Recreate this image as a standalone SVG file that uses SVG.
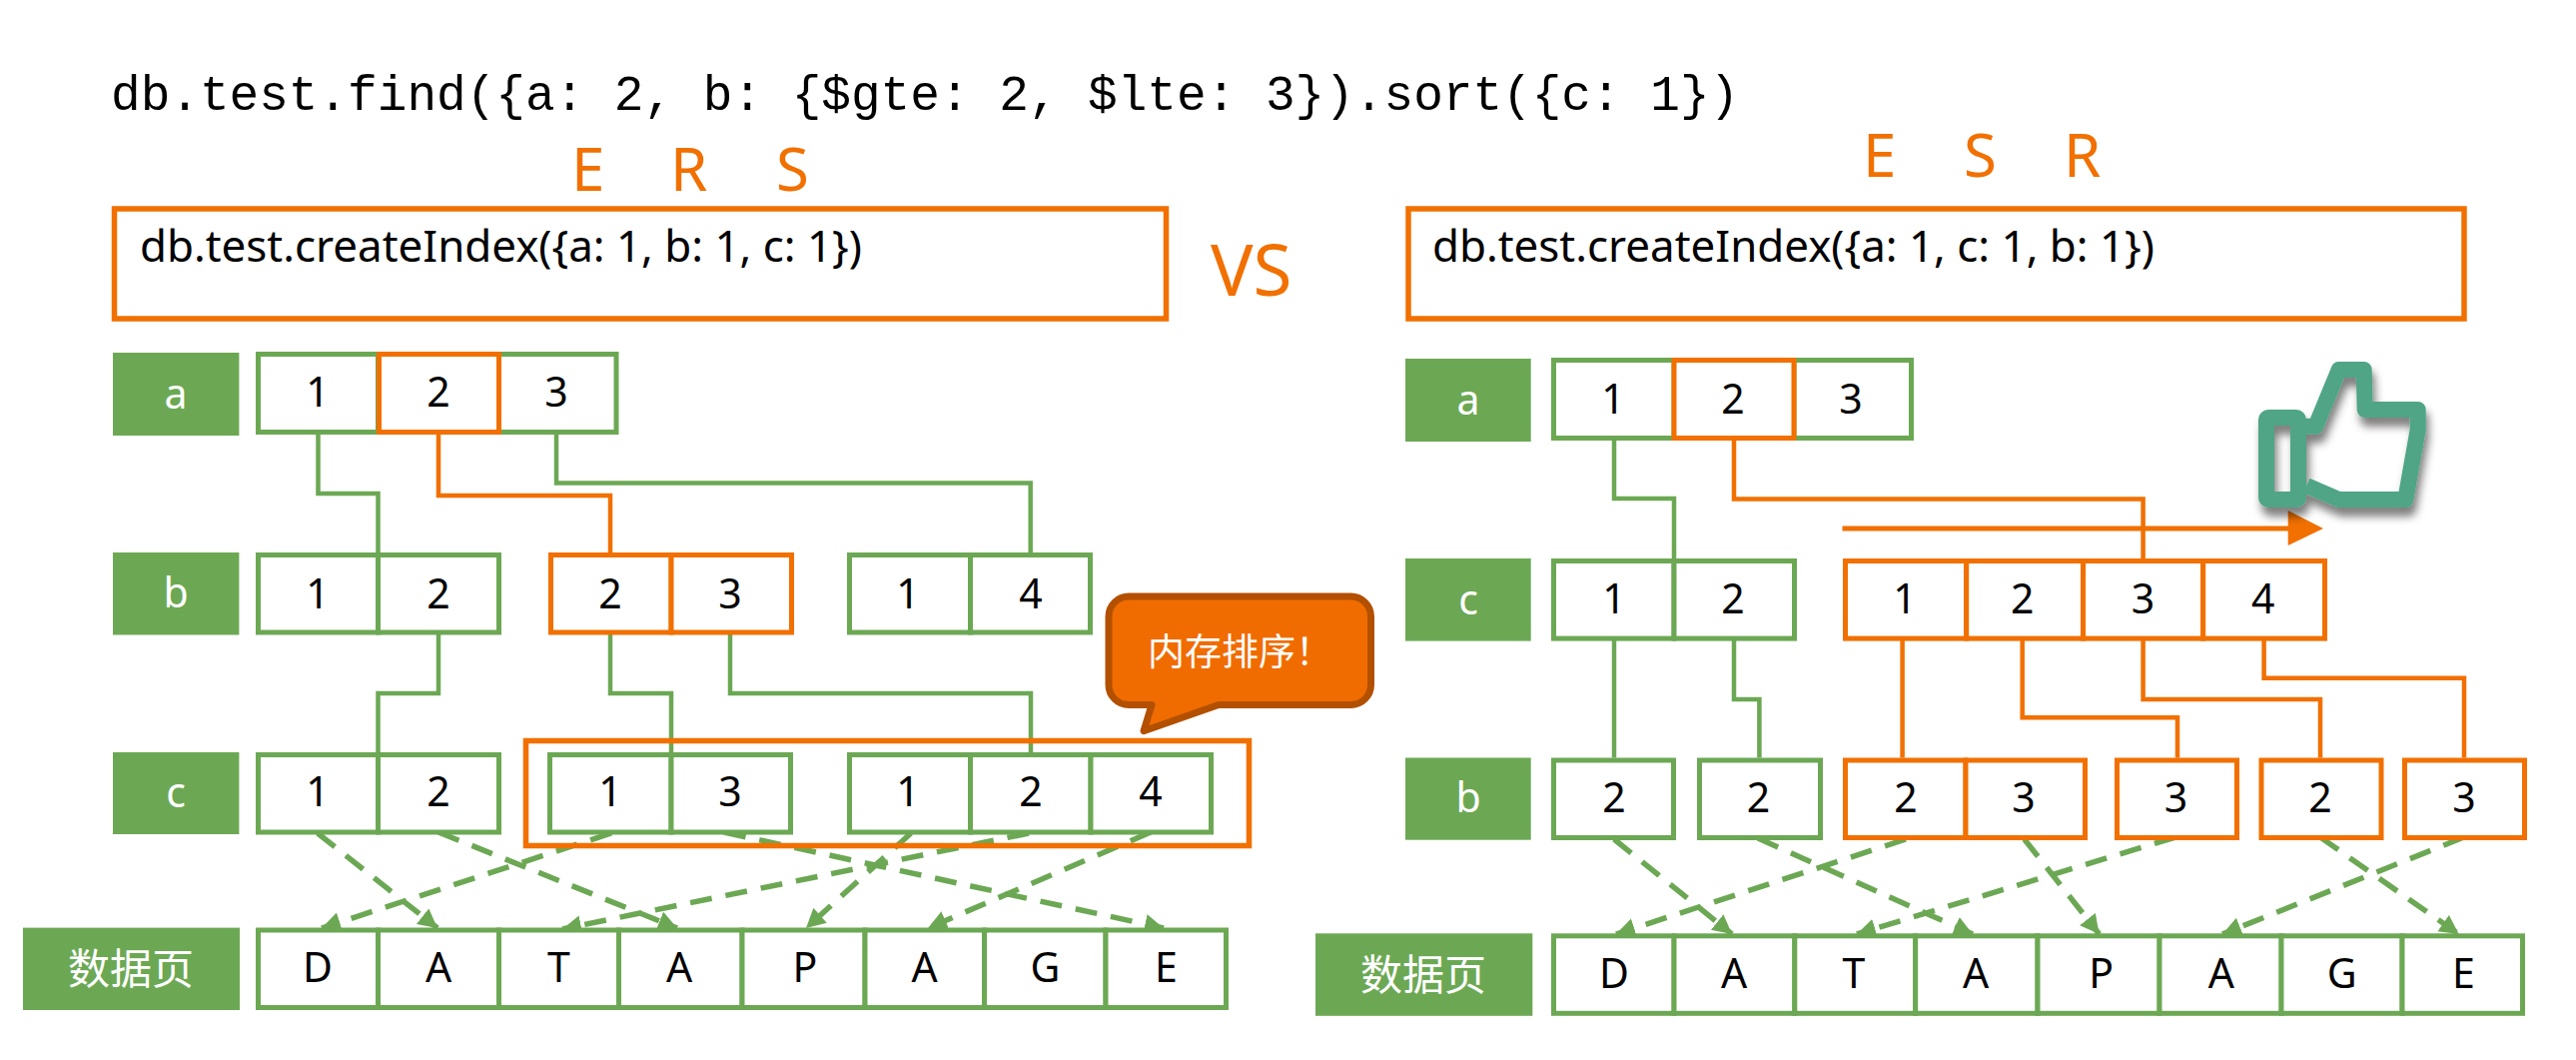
<svg xmlns="http://www.w3.org/2000/svg" width="2579" height="1061" viewBox="0 0 2579 1061">
<style>
text{font-family:"Noto Sans","Noto Sans CJK SC",sans-serif}
.g{fill:#fff;stroke:#6ca854;stroke-width:5}
.o{fill:#fff;stroke:#f17000;stroke-width:5}
.box{fill:none;stroke:#f17000;stroke-width:5.5}
.lab{fill:#6ca854}
.lt{fill:#fff;font-size:41px;text-anchor:middle}
.cn{font-size:42px}
.d{fill:#000;font-size:41px;text-anchor:middle}
.big{fill:#f17000;font-size:60px}
.code{fill:#000;font-size:43.9px}
.cg{fill:none;stroke:#6ca854;stroke-width:4.5}
.co{fill:none;stroke:#f17000;stroke-width:4.5}
.dash{fill:none;stroke:#6ca854;stroke-width:5.5;stroke-dasharray:22 14;marker-end:url(#ah)}
</style>
<defs>
<marker id="ah" markerUnits="userSpaceOnUse" markerWidth="22" markerHeight="22" refX="19" refY="10" orient="auto"><path d="M0 0L19 10L0 20Z" fill="#6ca854"/></marker>
<filter id="sh" x="-20%" y="-20%" width="150%" height="150%"><feDropShadow dx="3" dy="9" stdDeviation="4" flood-color="#000" flood-opacity=".5"/></filter>
</defs>
<rect width="2579" height="1061" fill="#fff"/>
<g id="connectors">
<path class="cg" d="M318.5 435V494H378.5V553"/>
<path class="co" d="M439 435V496H611V553"/>
<path class="cg" d="M557 435V483.5H1031.7V553"/>
<path class="cg" d="M439 635V694H378.5V753"/>
<path class="cg" d="M611 635V694H672V753"/>
<path class="cg" d="M731 635V694H1032V753"/>
<path class="dash" d="M318 834L438 929"/>
<path class="dash" d="M439 833L678 929"/>
<path class="dash" d="M612 834L322 929"/>
<path class="dash" d="M725 833L1165 929"/>
<path class="dash" d="M912 834L807 929"/>
<path class="dash" d="M1030 834L563 930"/>
<path class="dash" d="M1152 833L929 929"/>
<path class="cg" d="M1616 441V499H1676V561"/>
<path class="co" d="M1736 441V499.5H2145.6V561"/>
<path class="cg" d="M1616 641V758.5"/>
<path class="cg" d="M1736 641V700H1761.4V758.5"/>
<path class="co" d="M1904.6 641V758.5"/>
<path class="co" d="M2024.7 641V718.3H2180V758.5"/>
<path class="co" d="M2145.6 641V700H2323V758.5"/>
<path class="co" d="M2266.6 641V678.7H2467V758.5"/>
<path class="dash" d="M1616 840L1734 935"/>
<path class="dash" d="M1760 839L1975 935"/>
<path class="dash" d="M1908 840L1618 935"/>
<path class="dash" d="M2026.7 840L2101.7 935"/>
<path class="dash" d="M2178 838L1859 935"/>
<path class="dash" d="M2323 838L2461.7 935"/>
<path class="dash" d="M2466.7 838L2225 935"/>
<path d="M1844.5 529H2292" fill="none" stroke="#f17000" stroke-width="5"/>
<path d="M2290.7 511L2326 529L2290.7 546Z" fill="#f17000"/>
</g>
<g id="query"><text x="111" y="110" style="font-family:'Liberation Mono',monospace;font-size:49.4px" fill="#000">db.test.find({a: 2, b: {$gte: 2, $lte: 3}).sort({c: 1})</text></g>
<g id="esr-left"><text class="big" x="572" y="191">E</text><text class="big" x="671" y="191">R</text><text class="big" x="777" y="191">S</text></g>
<g id="esr-right"><text class="big" x="1865" y="176.5">E</text><text class="big" x="1966" y="176.5">S</text><text class="big" x="2066" y="176.5">R</text></g>
<g id="index-left"><rect class="box" x="114.5" y="209" width="1053" height="110"/><text class="code" x="140" y="262">db.test.createIndex({a: 1, b: 1, c: 1})</text></g>
<g id="vs"><text x="1212" y="296" fill="#f17000" font-size="71">VS</text></g>
<g id="index-right"><rect class="box" x="1410" y="209" width="1057" height="110"/><text class="code" x="1434" y="262">db.test.createIndex({a: 1, c: 1, b: 1})</text></g>

<g id="left-a">
<rect class="lab" x="113" y="353" width="126.4" height="83"/><text class="lt" x="176" y="409">a</text>
<rect class="g" x="258.5" y="354.5" width="120" height="78"/><rect class="g" x="499.5" y="354.5" width="117.5" height="78"/><rect class="o" x="379.5" y="354.5" width="120" height="78"/>
<text class="d" x="318" y="407">1</text><text class="d" x="439" y="407">2</text><text class="d" x="557" y="407">3</text>
</g>
<g id="left-b">
<rect class="lab" x="113" y="553" width="126.4" height="82.5"/><text class="lt" x="176" y="608">b</text>
<rect class="g" x="258.5" y="555.5" width="120" height="77.5"/><rect class="g" x="378.5" y="555.5" width="121" height="77.5"/>
<rect class="o" x="551.5" y="555.5" width="120.5" height="77.5"/><rect class="o" x="672" y="555.5" width="120.5" height="77.5"/>
<rect class="g" x="850.5" y="555.5" width="121" height="77.5"/><rect class="g" x="971.5" y="555.5" width="120" height="77.5"/>
<text class="d" x="318" y="608.5">1</text><text class="d" x="439" y="608.5">2</text><text class="d" x="611" y="608.5">2</text><text class="d" x="731" y="608.5">3</text><text class="d" x="909" y="608.5">1</text><text class="d" x="1032" y="608.5">4</text>
</g>
<g id="left-c">
<rect class="lab" x="113" y="753" width="126.4" height="82"/><text class="lt" x="176" y="808">c</text>
<rect class="g" x="258.5" y="755.5" width="120" height="77.5"/><rect class="g" x="378.5" y="755.5" width="121" height="77.5"/>
<rect class="g" x="550.5" y="755.5" width="121.5" height="77.5"/><rect class="g" x="672" y="755.5" width="119.5" height="77.5"/>
<rect class="g" x="850.5" y="755.5" width="121" height="77.5"/><rect class="g" x="971.5" y="755.5" width="120.5" height="77.5"/><rect class="g" x="1092" y="755.5" width="120.5" height="77.5"/>
<text class="d" x="318" y="807">1</text><text class="d" x="439" y="807">2</text><text class="d" x="611" y="807">1</text><text class="d" x="731" y="807">3</text><text class="d" x="909" y="807">1</text><text class="d" x="1032" y="807">2</text><text class="d" x="1152" y="807">4</text>
</g>
<g id="memory-sort-box"><rect class="box" x="526.5" y="741.5" width="724" height="105"/></g>
<g id="left-data">
<rect class="lab" x="23" y="928.6" width="217" height="82.4"/><text class="lt cn" x="131" y="985">数据页</text>
<rect class="g" x="258.5" y="931" width="120" height="77.5"/><rect class="g" x="378.5" y="931" width="121" height="77.5"/><rect class="g" x="499.5" y="931" width="120" height="77.5"/><rect class="g" x="619.5" y="931" width="123.5" height="77.5"/><rect class="g" x="743" y="931" width="123" height="77.5"/><rect class="g" x="866" y="931" width="119.6" height="77.5"/><rect class="g" x="985.6" y="931" width="121.4" height="77.5"/><rect class="g" x="1107" y="931" width="120.5" height="77.5"/>
<text class="d" x="318" y="983">D</text><text class="d" x="439" y="983">A</text><text class="d" x="559.5" y="983">T</text><text class="d" x="680" y="983">A</text><text class="d" x="806" y="983">P</text><text class="d" x="925.5" y="983">A</text><text class="d" x="1046.5" y="983">G</text><text class="d" x="1167.5" y="983">E</text>
</g>

<g id="callout">
<path d="M1130 597H1352.5A20 20 0 0 1 1372.5 617V685.5A20 20 0 0 1 1352.5 705.5H1220L1145 731.7L1153 705.5H1130A20 20 0 0 1 1110 685.5V617A20 20 0 0 1 1130 597Z" fill="#f06c00" stroke="#b25000" stroke-width="7" stroke-linejoin="round"/>
<text x="1149" y="666" fill="#fff" font-size="37" style="font-family:'Noto Sans CJK SC',sans-serif">内存排序！</text>
</g>

<g id="right-a">
<rect class="lab" x="1407" y="359" width="125.7" height="83"/><text class="lt" x="1470" y="415">a</text>
<rect class="g" x="1555.5" y="360.5" width="120.5" height="78"/><rect class="g" x="1796" y="360.5" width="117.5" height="78"/><rect class="o" x="1676" y="360.5" width="120" height="78"/>
<text class="d" x="1615" y="414">1</text><text class="d" x="1735" y="414">2</text><text class="d" x="1853" y="414">3</text>
</g>
<g id="right-c">
<rect class="lab" x="1407" y="559" width="125.7" height="82.6"/><text class="lt" x="1470" y="615">c</text>
<rect class="g" x="1555.5" y="561.5" width="120.5" height="77.6"/><rect class="g" x="1676" y="561.5" width="120.5" height="77.6"/>
<rect class="o" x="1847.5" y="561.5" width="121.2" height="77.6"/><rect class="o" x="1968.7" y="561.5" width="116.9" height="77.6"/><rect class="o" x="2085.6" y="561.5" width="120.1" height="77.6"/><rect class="o" x="2205.7" y="561.5" width="121.8" height="77.6"/>
<text class="d" x="1616" y="614">1</text><text class="d" x="1735" y="614">2</text><text class="d" x="1907" y="614">1</text><text class="d" x="2024.7" y="614">2</text><text class="d" x="2145.6" y="614">3</text><text class="d" x="2265.7" y="614">4</text>
</g>
<g id="right-b">
<rect class="lab" x="1407" y="758.5" width="125.7" height="82.2"/><text class="lt" x="1470" y="813">b</text>
<rect class="g" x="1555.5" y="761" width="120" height="77.5"/><rect class="g" x="1701.5" y="761" width="121" height="77.5"/>
<rect class="o" x="1847.5" y="761" width="120.5" height="77.5"/><rect class="o" x="1968" y="761" width="119.5" height="77.5"/><rect class="o" x="2119.5" y="761" width="120" height="77.5"/><rect class="o" x="2264" y="761" width="120" height="77.5"/><rect class="o" x="2407.5" y="761" width="120" height="77.5"/>
<text class="d" x="1616" y="812.6">2</text><text class="d" x="1760.6" y="812.6">2</text><text class="d" x="1908" y="812.6">2</text><text class="d" x="2026" y="812.6">3</text><text class="d" x="2178.5" y="812.6">3</text><text class="d" x="2323" y="812.6">2</text><text class="d" x="2467" y="812.6">3</text>
</g>
<g id="right-data">
<rect class="lab" x="1317" y="934.3" width="217.3" height="82.5"/><text class="lt cn" x="1425" y="991">数据页</text>
<rect class="g" x="1555.5" y="936.8" width="120.5" height="77.5"/><rect class="g" x="1676" y="936.8" width="120.8" height="77.5"/><rect class="g" x="1796.8" y="936.8" width="120.9" height="77.5"/><rect class="g" x="1917.7" y="936.8" width="122.3" height="77.5"/><rect class="g" x="2040" y="936.8" width="122" height="77.5"/><rect class="g" x="2162" y="936.8" width="122" height="77.5"/><rect class="g" x="2284" y="936.8" width="121" height="77.5"/><rect class="g" x="2405" y="936.8" width="120.5" height="77.5"/>
<text class="d" x="1616" y="988.8">D</text><text class="d" x="1736" y="988.8">A</text><text class="d" x="1856" y="988.8">T</text><text class="d" x="1978" y="988.8">A</text><text class="d" x="2103.6" y="988.8">P</text><text class="d" x="2223.8" y="988.8">A</text><text class="d" x="2344.7" y="988.8">G</text><text class="d" x="2466.5" y="988.8">E</text>
</g>
<g id="thumb" filter="url(#sh)" fill="none" stroke="#4fa585" stroke-width="16" stroke-linejoin="round">
<rect x="2269" y="418" width="32" height="82" rx="2"/>
<path d="M2306.7 426.7H2318.3L2341.7 370H2366.7L2367.7 410H2420.7V430L2408.3 500H2341.7L2309.3 486"/>
</g>
</svg>
